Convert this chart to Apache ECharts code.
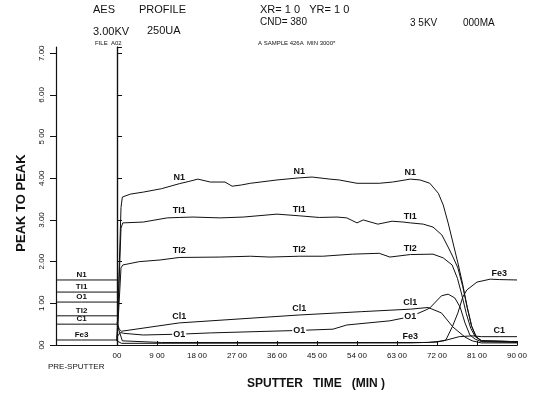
<!DOCTYPE html>
<html><head><meta charset="utf-8">
<script src="https://cdn.jsdelivr.net/npm/echarts@6/dist/echarts.min.js"></script>
<style>html,body{margin:0;padding:0;background:#fff}#c{width:540px;height:401px}</style>
</head><body><div id="c"></div>
<script>
// ---- data ----
const xTickLabels = ['00','9 00','18 00','27 00','36 00','45 00','54 00','63 00','72 00','81 00','90 00'];
const yTickLabels = ['00','1 00','2.00','3.00','4.00','5 00','6.00','7.00'];

const preNames  = ['N1','TI1','O1','TI2','C1','Fe3'];
const preValues = [1.56, 1.27, 1.03, 0.70, 0.50, 0.12];

const n1 = [[0,0.1],[0.9,3.3],[1.2,3.55],[3,3.62],[6,3.67],[10,3.75],[14,3.87],[16,3.92],[18.2,3.98],[21,3.91],[24.3,3.91],[25.9,3.81],[28,3.84],[30,3.88],[36,3.96],[41,4.01],[43.9,4.03],[47.9,3.98],[50,3.96],[54,3.88],[59,3.88],[62,3.91],[66,3.98],[68.2,3.96],[70.4,3.88],[72.3,3.64],[73.4,3.36],[74.5,2.93],[75.6,2.45],[76.7,1.97],[77.8,1.45],[78.8,0.9],[79.8,0.45],[80.8,0.2],[82,0.1],[90,0.08]];
const ti1 = [[0,0.1],[0.9,2.8],[1.3,2.93],[5.9,2.95],[11.3,3.05],[14,3.06],[17.1,3.07],[23.2,3.05],[28.4,3.07],[36,3.14],[41,3.1],[45.5,3.06],[49.5,3.07],[51.7,3.05],[54,2.93],[55.4,3.0],[58.7,2.9],[61.9,2.97],[64.4,2.95],[66,2.93],[68.9,2.9],[71.1,2.83],[73.1,2.64],[74.5,2.35],[75.6,2.11],[76.7,1.85],[77.8,1.4],[78.8,0.9],[79.8,0.45],[80.8,0.2],[82,0.1],[90,0.08]];
const ti2 = [[0,0.1],[0.9,1.85],[1.3,1.92],[5,2.0],[9.7,2.04],[14,2.1],[23.2,2.11],[30,2.13],[34.4,2.11],[41,2.13],[46.3,2.13],[53,2.18],[59,2.2],[61.4,2.11],[66,2.17],[71.1,2.18],[73.4,2.09],[75.4,1.92],[76.6,1.6],[77.6,1.2],[78.6,0.75],[79.6,0.4],[80.6,0.2],[82,0.1],[90,0.08]];
const cl1 = [[0,0.55],[0.5,0.38],[1,0.33],[14,0.53],[41,0.72],[55,0.8],[66,0.86],[70,0.9],[73,0.77],[75.6,0.43],[78.3,0.19],[79.9,0.1],[82,0.05],[90,0.05]];
const o1  = [[0,0.2],[0.8,0.3],[1.5,0.28],[5.9,0.24],[14,0.26],[21,0.29],[41,0.35],[48.6,0.38],[51.7,0.48],[61.4,0.58],[66,0.68],[69.5,0.84],[70.4,0.89],[73,1.18],[74.5,1.22],[76,1.13],[77.2,0.91],[78.3,0.53],[79.4,0.24],[80.6,0.14],[82,0.08],[90,0.06]];
const fe3 = [[0,0.1],[1,0.04],[66,0.05],[72,0.07],[74,0.12],[75.5,0.45],[76.7,0.77],[77.8,1.15],[78.7,1.32],[81,1.51],[84,1.58],[86,1.57],[90,1.56]];
const c1  = [[0,0.5],[1.2,0.1],[10,0.06],[70,0.06],[73.5,0.1],[77,0.2],[80,0.22],[82,0.2],[86,0.2],[90,0.2]];

const mainNames  = ['N1','TI1','TI2','Cl1','O1','Fe3','C1'];
const mainData   = [n1, ti1, ti2, cl1, o1, fe3, c1];
const labelTimes = [[14,41,66],[14,41,66],[14,41,66],[14,41,66],[14,41,66],[66,86],[86]];

// ---- chart ----
const INK = '#111';
const FONT = 'Liberation Sans, Arial, sans-serif';
const lblStyle = {show:true, position:'top', distance:2, color:INK, fontSize:9, fontWeight:'bold', fontFamily:FONT};

function buildMain(name, pts, times){
  const idx = times.map(t => {
    let b = 0; pts.forEach((p,i)=>{ if (Math.abs(p[0]-t) < Math.abs(pts[b][0]-t)) b = i; }); return b;
  });
  const data = pts.map((p,i) => {
    if (idx.indexOf(i) < 0) return {value:p};
    const l = Object.assign({}, lblStyle, {formatter:name});
    if (name === 'O1') { l.position = 'inside'; l.backgroundColor = '#fff'; l.padding = [0,1]; }
    return {value:p, label:l};
  });
  return {type:'line', name, xAxisIndex:1, yAxisIndex:1, data, symbol:'circle', symbolSize:0, showSymbol:true,
    lineStyle:{color:INK, width:1}, itemStyle:{color:INK}, silent:true, animation:false, z:3};
}

const series = [];
preNames.forEach((n,i) => {
  const v = preValues[i];
  series.push({type:'line', name:'pre-'+n, xAxisIndex:0, yAxisIndex:0,
    data:[{value:[0,v]},{value:[0.42,v], label:Object.assign({}, lblStyle, {formatter:n, fontSize:8, distance:1})},{value:[1,v]}],
    symbol:'circle', symbolSize:0, showSymbol:true, lineStyle:{color:INK,width:1}, itemStyle:{color:INK}, animation:false});
});
mainNames.forEach((n,i) => series.push(buildMain(n, mainData[i], labelTimes[i])));

const axLine = {show:true, lineStyle:{color:INK, width:1.2}};
const option = {
  backgroundColor:'#fff',
  animation:false,
  grid:[
    {left:56, top:47, width:61, bottom:56},
    {left:117, top:47, width:400, bottom:56}
  ],
  xAxis:[
    {type:'value', gridIndex:0, min:0, max:1, axisLine:axLine, axisTick:{show:false}, axisLabel:{show:false}, splitLine:{show:false}},
    {type:'value', gridIndex:1, min:0, max:90, interval:9, axisLine:axLine,
      axisTick:{show:true, inside:true, length:4, lineStyle:{color:INK}},
      axisLabel:{color:INK, fontSize:8, fontFamily:FONT, margin:7, formatter:(v)=>xTickLabels[Math.round(v/9)] ?? ''},
      splitLine:{show:false}},
    {type:'value', gridIndex:1, position:'top', min:0, max:90, interval:9, axisLine:axLine,
      axisTick:{show:true, inside:false, length:3, lineStyle:{color:INK}}, axisLabel:{show:false}, splitLine:{show:false}}
  ],
  yAxis:[
    {type:'value', gridIndex:0, min:0, max:7.15, interval:1, axisLine:axLine,
      axisTick:{show:true, length:6, lineStyle:{color:INK}},
      axisLabel:{color:INK, fontSize:8, fontFamily:FONT, rotate:90, align:'center', verticalAlign:'bottom', margin:10, showMaxLabel:false,
        formatter:(v)=> (Math.abs(v-Math.round(v))<1e-6 ? (yTickLabels[Math.round(v)] ?? '') : '')},
      splitLine:{show:false}},
    {type:'value', gridIndex:1, min:0, max:7.15, interval:1, axisLine:axLine,
      axisTick:{show:true, inside:true, length:3, lineStyle:{color:INK}}, axisLabel:{show:false}, splitLine:{show:false}},
    {type:'value', gridIndex:1, position:'right', min:0, max:7.15, interval:1, axisLine:axLine,
      axisTick:{show:true, inside:false, length:5, lineStyle:{color:INK}}, axisLabel:{show:false}, splitLine:{show:false}}
  ],
  graphic:[
    {type:'text', x:93, y:10, style:{text:'AES', font:'11px '+FONT, fill:INK, textVerticalAlign:'middle'}},
    {type:'text', x:139, y:10, style:{text:'PROFILE', font:'11px '+FONT, fill:INK, textVerticalAlign:'middle'}},
    {type:'text', x:260, y:10, style:{text:'XR= 1 0   YR= 1 0', font:'11px '+FONT, fill:INK, textVerticalAlign:'middle'}},
    {type:'text', x:260, y:22, style:{text:'CND= 380', font:'10px '+FONT, fill:INK, textVerticalAlign:'middle'}},
    {type:'text', x:410, y:23, style:{text:'3 5KV', font:'10px '+FONT, fill:INK, textVerticalAlign:'middle'}},
    {type:'text', x:463, y:23, style:{text:'000MA', font:'10px '+FONT, fill:INK, textVerticalAlign:'middle'}},
    {type:'text', x:93, y:32, style:{text:'3.00KV', font:'11px '+FONT, fill:INK, textVerticalAlign:'middle'}},
    {type:'text', x:147, y:31, style:{text:'250UA', font:'11px '+FONT, fill:INK, textVerticalAlign:'middle'}},
    {type:'text', x:95, y:43, style:{text:'FILE  A02', font:'6px '+FONT, fill:INK, textVerticalAlign:'middle'}},
    {type:'text', x:258, y:43, style:{text:'A SAMPLE 426A  MIN 3000*', font:'6px '+FONT, fill:INK, textVerticalAlign:'middle'}},
    {type:'text', x:48, y:367, style:{text:'PRE-SPUTTER', font:'8px '+FONT, fill:INK, textVerticalAlign:'middle'}},
    {type:'text', x:316, y:384, style:{text:'SPUTTER   TIME   (MIN )', font:'bold 12px '+FONT, fill:INK, textAlign:'center', textVerticalAlign:'middle'}},
    {type:'text', x:21, y:203, rotation:Math.PI/2, style:{text:'PEAK TO PEAK', font:'bold 13px '+FONT, fill:INK, textAlign:'center', textVerticalAlign:'middle'}}
  ],
  series
};
const chart = echarts.init(document.getElementById('c'), null, {renderer:'canvas'});
chart.setOption(option);
</script></body></html>
